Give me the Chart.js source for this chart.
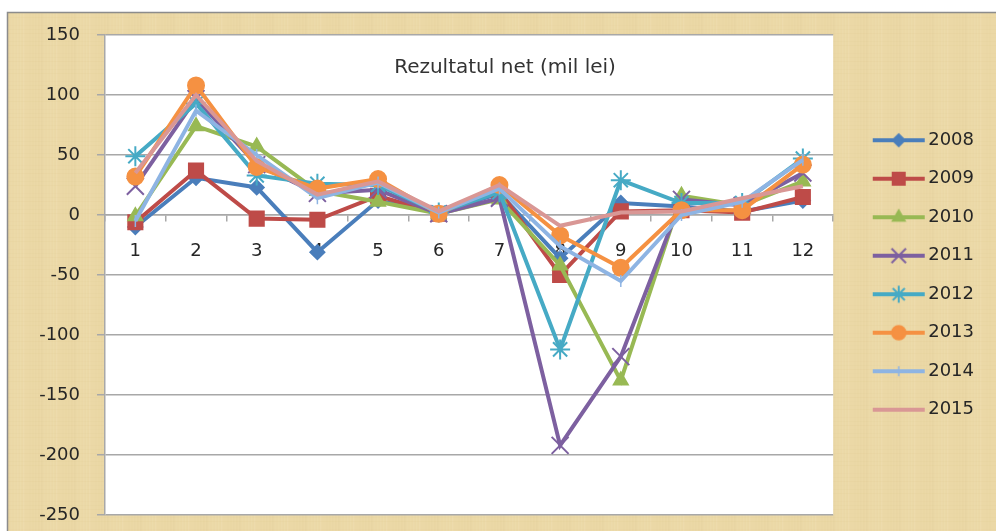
<!DOCTYPE html>
<html>
<head>
<meta charset="utf-8">
<script src="https://cdn.jsdelivr.net/npm/chart.js@4.4.1/dist/chart.umd.min.js"></script>
<style>
  html, body { margin: 0; padding: 0; background: #fff; }
  #wrap { width: 996px; height: 531px; }
</style>
</head>
<body>
<div id="wrap"><canvas id="chart" width="996" height="531"></canvas></div>
<script>
// data (mil lei)
const months = ['1', '2', '3', '4', '5', '6', '7', '8', '9', '10', '11', '12'];
const years = ['2008', '2009', '2010', '2011', '2012', '2013', '2014', '2015'];

const net2008 = [-10, 31, 23, -31, 12, 2, 18, -36, 10, 7, 3, 12];
const net2009 = [-6, 37, -3, -4, 16, 1, 20, -50, 3, 4, 2, 15];
const net2010 = [-1, 74, 57, 20, 11, 1, 13, -42, -138, 16, 8, 28];
const net2011 = [24, 97, 42, 18, 21, 1, 14, -192, -118, 13, 8, 35];
const net2012 = [49, 93, 33, 26, 25, 2, 19, -112, 29, 10, 10, 47];
const net2013 = [32, 108, 40, 22, 30, 1, 25, -17, -44, 4, 4, 42];
const net2014 = [-5, 87, 50, 14, 27, 2, 22, -26, -55, 0, 11, 46];
const net2015 = [35, 100, 45, 17, 28, 3, 25, -9, 2, 3, 14, 24];

const yMin = -250;
const yMax = 150;
const yStep = 50;

const chartTitle = 'Rezultatul net (mil lei)';

// styling
const seriesValues = [net2008, net2009, net2010, net2011, net2012, net2013, net2014, net2015];
const colors = ['#4A7EBB', '#BE4B48', '#98B954', '#7D60A0', '#46AAC5', '#F59142', '#8EB4E3', '#D99795'];
const markers = ['rectRot', 'rect', 'triangle', 'crossRot', 'star', 'circle', 'line', false];
const markerSize = [7, 10, 8, 12, 10, 8, 6, 0];
const markerRot = [0, 0, 0, 0, 0, 0, 90, 0];
const markerBorder = [2, 2, 2, 2, 2, 2, 1.5, 0];

const FONT = "'DejaVu Sans', sans-serif";
const textColor = '#262626';
const gridColor = '#a8a8a8';

function legendIcon(i) {
  const c = document.createElement('canvas');
  c.width = 54;
  c.height = 24;
  const g = c.getContext('2d');
  g.strokeStyle = colors[i];
  g.fillStyle = colors[i];
  g.lineWidth = 4;
  g.beginPath();
  g.moveTo(1, 12);
  g.lineTo(53, 12);
  g.stroke();
  if (markers[i]) {
    g.lineWidth = markerBorder[i];
    Chart.helpers.drawPoint(g, {
      pointStyle: markers[i],
      radius: markerSize[i] * 0.85,
      rotation: markerRot[i],
      borderWidth: markerBorder[i]
    }, 27, 12);
  }
  return c;
}

// paper background, outer frame and white plot area
const paperBg = {
  id: 'paperBg',
  beforeDraw(chart) {
    const { ctx, chartArea: a, width, height } = chart;
    ctx.save();
    ctx.fillStyle = '#fff';
    ctx.fillRect(0, 0, width, height);
    ctx.fillStyle = '#ebd8a6';
    ctx.fillRect(7, 12, width - 7, height - 12);
    // faint fibre streaks
    for (let x = 8; x < width - 4; x += 3) {
      const k = (x * 37) % 11;
      ctx.fillStyle = k < 5 ? 'rgba(255,250,225,' + (0.04 + k * 0.015) + ')' : 'rgba(190,160,90,' + ((k - 5) * 0.008) + ')';
      ctx.fillRect(x, 12, 1.5, height - 12);
    }
    for (let y = 13; y < height; y += 4) {
      const k = (y * 53) % 7;
      ctx.fillStyle = 'rgba(200,170,100,' + (k * 0.01) + ')';
      ctx.fillRect(7, y, width - 7, 1);
    }
    ctx.strokeStyle = '#8c8c8c';
    ctx.lineWidth = 1.5;
    ctx.beginPath();
    ctx.moveTo(7.5, height);
    ctx.lineTo(7.5, 12.5);
    ctx.lineTo(width, 12.5);
    ctx.stroke();
    ctx.fillStyle = '#fff';
    ctx.fillRect(a.left, a.top, a.right - a.left, a.bottom - a.top);
    ctx.restore();
  }
};

// title sits inside the plot area
const plotTitle = {
  id: 'plotTitle',
  beforeDatasetsDraw(chart) {
    const { ctx, chartArea: a } = chart;
    ctx.save();
    ctx.font = "20px 'DejaVu Sans', sans-serif";
    ctx.fillStyle = '#333';
    ctx.textAlign = 'center';
    ctx.textBaseline = 'middle';
    ctx.fillText(chartTitle, 505, a.top + 33);
    ctx.restore();
  }
};

const datasets = years.map((year, i) => ({
  label: year,
  data: seriesValues[i],
  borderColor: colors[i],
  backgroundColor: colors[i],
  borderWidth: 4,
  tension: 0,
  pointStyle: markers[i],
  pointRadius: markerSize[i],
  pointRotation: markerRot[i],
  pointBorderWidth: markerBorder[i],
  pointBackgroundColor: colors[i],
  pointBorderColor: colors[i],
  order: years.length - i
}));

new Chart(document.getElementById('chart'), {
  type: 'line',
  data: { labels: months, datasets },
  options: {
    responsive: false,
    animation: false,
    layout: { padding: { left: 0, right: 12, top: 35, bottom: 16 } },
    scales: {
      x: {
        position: { y: 0 },
        offset: true,
        grid: {
          drawOnChartArea: false,
          drawTicks: true,
          tickLength: 6,
          offset: true,
          color: gridColor,
          lineWidth: 1.5
        },
        border: { display: true, color: gridColor, width: 1.5 },
        ticks: {
          font: { family: FONT, size: 18 },
          color: textColor,
          padding: 20,
          maxRotation: 0
        },
        afterFit(scale) {
          scale.height = 0;
          scale.paddingLeft = 0;
          scale.paddingRight = 0;
        }
      },
      y: {
        min: yMin,
        max: yMax,
        grid: { color: gridColor, lineWidth: 1.5, tickLength: 8 },
        border: { display: true, color: gridColor, width: 1.5 },
        ticks: {
          stepSize: yStep,
          font: { family: FONT, size: 18 },
          color: textColor,
          padding: 17
        },
        afterFit(scale) {
          scale.width = 105;
          scale.paddingTop = 0;
          scale.paddingBottom = 0;
        }
      },
      spacer: {
        type: 'linear',
        position: 'right',
        grid: { display: false },
        border: { display: false },
        ticks: { display: false },
        afterFit(scale) { scale.width = 24.5; }
      }
    },
    plugins: {
      legend: {
        position: 'right',
        align: 'center',
        maxHeight: 481,
        labels: {
          font: { family: FONT, size: 18 },
          color: textColor,
          padding: 20.5,
          usePointStyle: true,
          pointStyleWidth: 41,
          boxHeight: 18,
          sort: (a, b) => a.datasetIndex - b.datasetIndex,
          generateLabels(chart) {
            const items = Chart.defaults.plugins.legend.labels.generateLabels(chart);
            return items.map(it => Object.assign(it, {
              pointStyle: legendIcon(it.datasetIndex),
              rotation: 0,
              fontColor: textColor
            }));
          }
        }
      },
      title: { display: false },
      tooltip: { enabled: false }
    }
  },
  plugins: [paperBg, plotTitle]
});
</script>
</body>
</html>
